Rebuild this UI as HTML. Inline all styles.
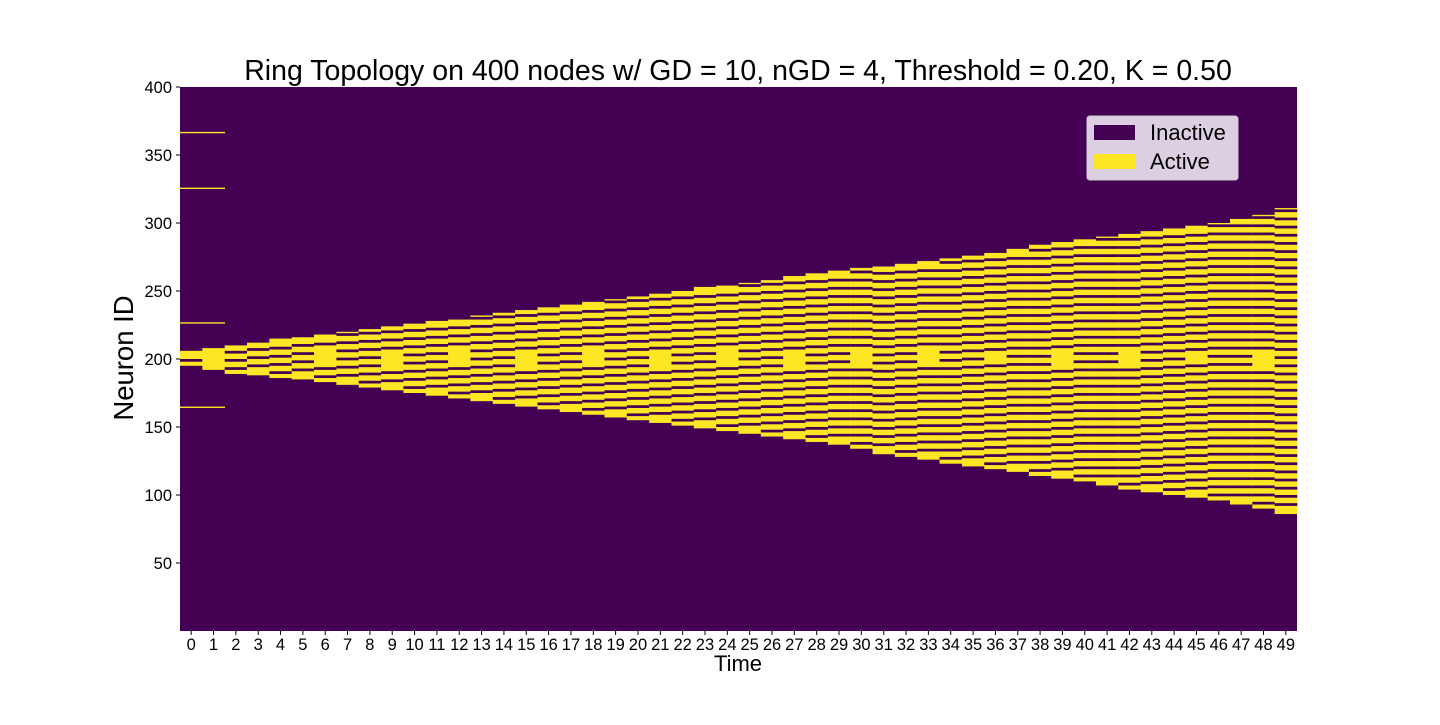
<!DOCTYPE html>
<html><head><meta charset="utf-8"><style>
body{margin:0;background:#fff;}
svg text{font-family:"Liberation Sans",sans-serif;fill:#000;}
</style></head><body>
<svg id="chart" width="1440" height="720" xmlns="http://www.w3.org/2000/svg">
<text x="738" y="80" font-size="28.5" text-anchor="middle">Ring Topology on 400 nodes w/ GD = 10, nGD = 4, Threshold = 0.20, K = 0.50</text>
<text transform="translate(133,358) rotate(-90)" font-size="27.5" text-anchor="middle">Neuron ID</text>
<text x="738" y="671" font-size="22" text-anchor="middle">Time</text>
<g id="plot"></g>
<g id="axes"></g>
<g>
<rect x="1087" y="116" width="151" height="64" rx="3" fill="#dccfe2" stroke="#ccc" stroke-width="1"/>
<rect x="1094" y="125" width="41" height="15" fill="#440154"/>
<text x="1150" y="140" font-size="22">Inactive</text>
<rect x="1094" y="154" width="41" height="15" fill="#fde725"/>
<text x="1150" y="169" font-size="22">Active</text>
</g>
</svg>
<script>
const times = Array.from({length:50},(_,i)=>i);
const bandTop = [206,208,210,212,215,216,218,220,222,224,226,228,229,232,234,236,238,240,242,244,246,248,250,253,254,256,258,261,263,265,267,268,270,272,274,276,278,281,284,286,288,290,292,294,296,298,300,303,306,311];
const bandBottom = [195,192,189,188,186,185,183,181,179,177,175,173,171,169,167,165,163,161,159,157,155,153,151,149,147,145,143,141,139,137,134,130,128,126,123,121,119,117,114,112,110,107,104,102,100,98,96,93,90,86];
const yTicks = [50,100,150,200,250,300,350,400];
const col0Spikes = [366,325,226,164];

const NS="http://www.w3.org/2000/svg";
const X0=180,X1=1297,Y0=631,Y400=87;
const colW=(X1-X0)/times.length;
const ys=v=>Y0-(Y0-Y400)*v/400;
const xs=t=>X0+t*colW;
const plot=document.getElementById('plot');
const axes=document.getElementById('axes');
function mk(tag,attrs,parent){const e=document.createElementNS(NS,tag);for(const k in attrs)e.setAttribute(k,attrs[k]);parent.appendChild(e);return e;}
const bg=mk('rect',{x:X0,y:Y400,width:X1-X0,height:Y0-Y400,fill:'#440154'},plot);


function cell(t,lo,hi,span){
  const r=mk('rect',{x:xs(t),y:ys(hi),width:colW*(span||1)+0.3,height:Math.max(ys(lo)-ys(hi),1),fill:'#fde725'},plot);
  
  
}
times.forEach((t,i)=>{
  const lo=bandBottom[i],hi=bandTop[i];
  cell(t,lo,hi);
  if(i===1) return;
  const center=200;
  const phase=(i%2)*3;
  const solidCenter=(i>=6 && i%3===0);
  for(let v=lo+3+phase%6; v<hi-2; v+=6){
    if(solidCenter && Math.abs(v-center)<6) continue;
    if(i===0 && Math.abs(v-center)>2) continue;
    const g=mk('rect',{x:xs(t),y:ys(v+2),width:colW+0.3,height:ys(v)-ys(v+2),fill:'#440154'},plot);
    
    
  }
});
col0Spikes.forEach(v=>cell(0,v,v+1,2));
yTicks.forEach(v=>{
  mk('line',{x1:X0-4,x2:X0,y1:ys(v),y2:ys(v),stroke:'#000'},axes);
  const tx=mk('text',{x:X0-8,y:ys(v)+6,'font-size':16.5,'text-anchor':'end'},axes);
  tx.textContent=v;
  
  
});
times.forEach(t=>{
  const cx=xs(t)+colW/2;
  mk('line',{x1:cx,x2:cx,y1:Y0,y2:Y0+4,stroke:'#000'},axes);
  const tx=mk('text',{x:cx,y:Y0+19,'font-size':16.5,'text-anchor':'middle'},axes);
  tx.textContent=t;
  
  
});
</script>
</body></html>
